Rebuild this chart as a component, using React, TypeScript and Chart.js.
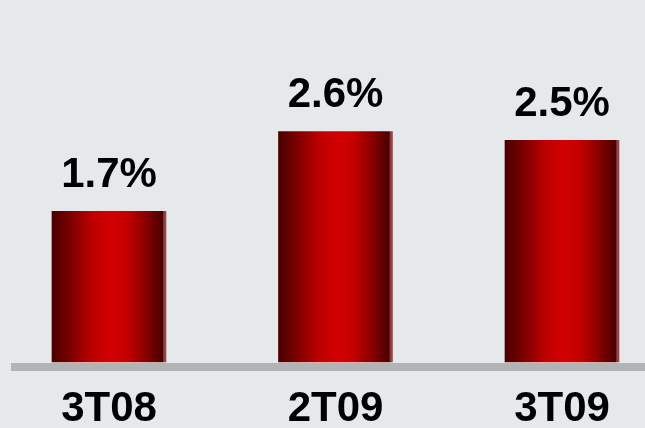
import React, { useEffect, useRef } from "react";
import { Chart, registerables } from "chart.js";

Chart.register(...registerables);

const categories = ["3T08", "2T09", "3T09"];
const values = [1.7, 2.6, 2.5];
const yMax = 3.0;

const FONT = '"Liberation Sans", Arial, sans-serif';
const BG = "#e6e9ec";

const backgroundPlugin = {
  id: "bgFill",
  beforeDraw(chart: any) {
    const { ctx, width, height } = chart;
    ctx.save();
    ctx.fillStyle = BG;
    ctx.fillRect(0, 0, width, height);
    ctx.restore();
  },
};

const baselinePlugin = {
  id: "baseline",
  afterDatasetsDraw(chart: any) {
    const { ctx, width } = chart;
    const y0 = chart.scales.y.getPixelForValue(0);
    ctx.save();
    ctx.fillStyle = "#b3b3b3";
    ctx.fillRect(11, y0 + 1, width - 11, 8);
    ctx.restore();
  },
};

const labelPlugin = {
  id: "valueLabels",
  afterDatasetsDraw(chart: any) {
    const { ctx } = chart;
    const meta = chart.getDatasetMeta(0);
    ctx.save();
    ctx.fillStyle = "#000";
    ctx.font = `bold 42px ${FONT}`;
    ctx.textAlign = "center";
    ctx.textBaseline = "alphabetic";
    meta.data.forEach((el: any, i: number) => {
      ctx.fillText(`${values[i]}%`, el.x, el.y - 24);
    });
    ctx.restore();
  },
};

function barGradient(context: any) {
  const chart = context.chart;
  const xs = chart.scales?.x;
  if (!xs || !chart.chartArea) return "#c00000";
  const cx = xs.getPixelForValue(context.dataIndex);
  const half = 57;
  const g = chart.ctx.createLinearGradient(cx - half, 0, cx + half, 0);
  g.addColorStop(0, "#4a0000");
  g.addColorStop(0.15, "#780000");
  g.addColorStop(0.35, "#bc0000");
  g.addColorStop(0.52, "#d40000");
  g.addColorStop(0.66, "#c40000");
  g.addColorStop(0.83, "#860000");
  g.addColorStop(0.97, "#4a0000");
  g.addColorStop(0.98, "#8a3a3a");
  g.addColorStop(1, "#9a4c4c");
  return g;
}

export default function App() {
  const ref = useRef<HTMLCanvasElement>(null);

  useEffect(() => {
    if (!ref.current) return;
    const chart = new Chart(ref.current, {
      type: "bar",
      data: {
        labels: categories,
        datasets: [
          {
            data: values,
            backgroundColor: barGradient,
            borderWidth: 0,
            barThickness: 114,
            clip: false as any,
          },
        ],
      },
      options: {
        responsive: false,
        animation: false,
        layout: { padding: { left: 109, right: 83, top: 96, bottom: 1 } },
        plugins: {
          legend: { display: false },
          tooltip: { enabled: false },
        },
        scales: {
          x: {
            offset: false,
            grid: { display: false, drawTicks: false },
            border: { display: false },
            ticks: {
              color: "#000",
              padding: 26,
              font: { family: FONT, size: 42, weight: "bold", lineHeight: 1 },
              maxRotation: 0,
              autoSkip: false,
            },
            afterFit(scale: any) {
              scale.height = 65;
            },
          },
          y: {
            display: false,
            min: 0,
            max: yMax,
          },
        },
      },
      plugins: [backgroundPlugin, baselinePlugin, labelPlugin],
    });
    return () => chart.destroy();
  }, []);

  return (
    <div style={{ position: "fixed", left: 0, top: 0, width: 645, height: 428 }}>
      <canvas ref={ref} width={645} height={428} style={{ display: "block" }} />
    </div>
  );
}
